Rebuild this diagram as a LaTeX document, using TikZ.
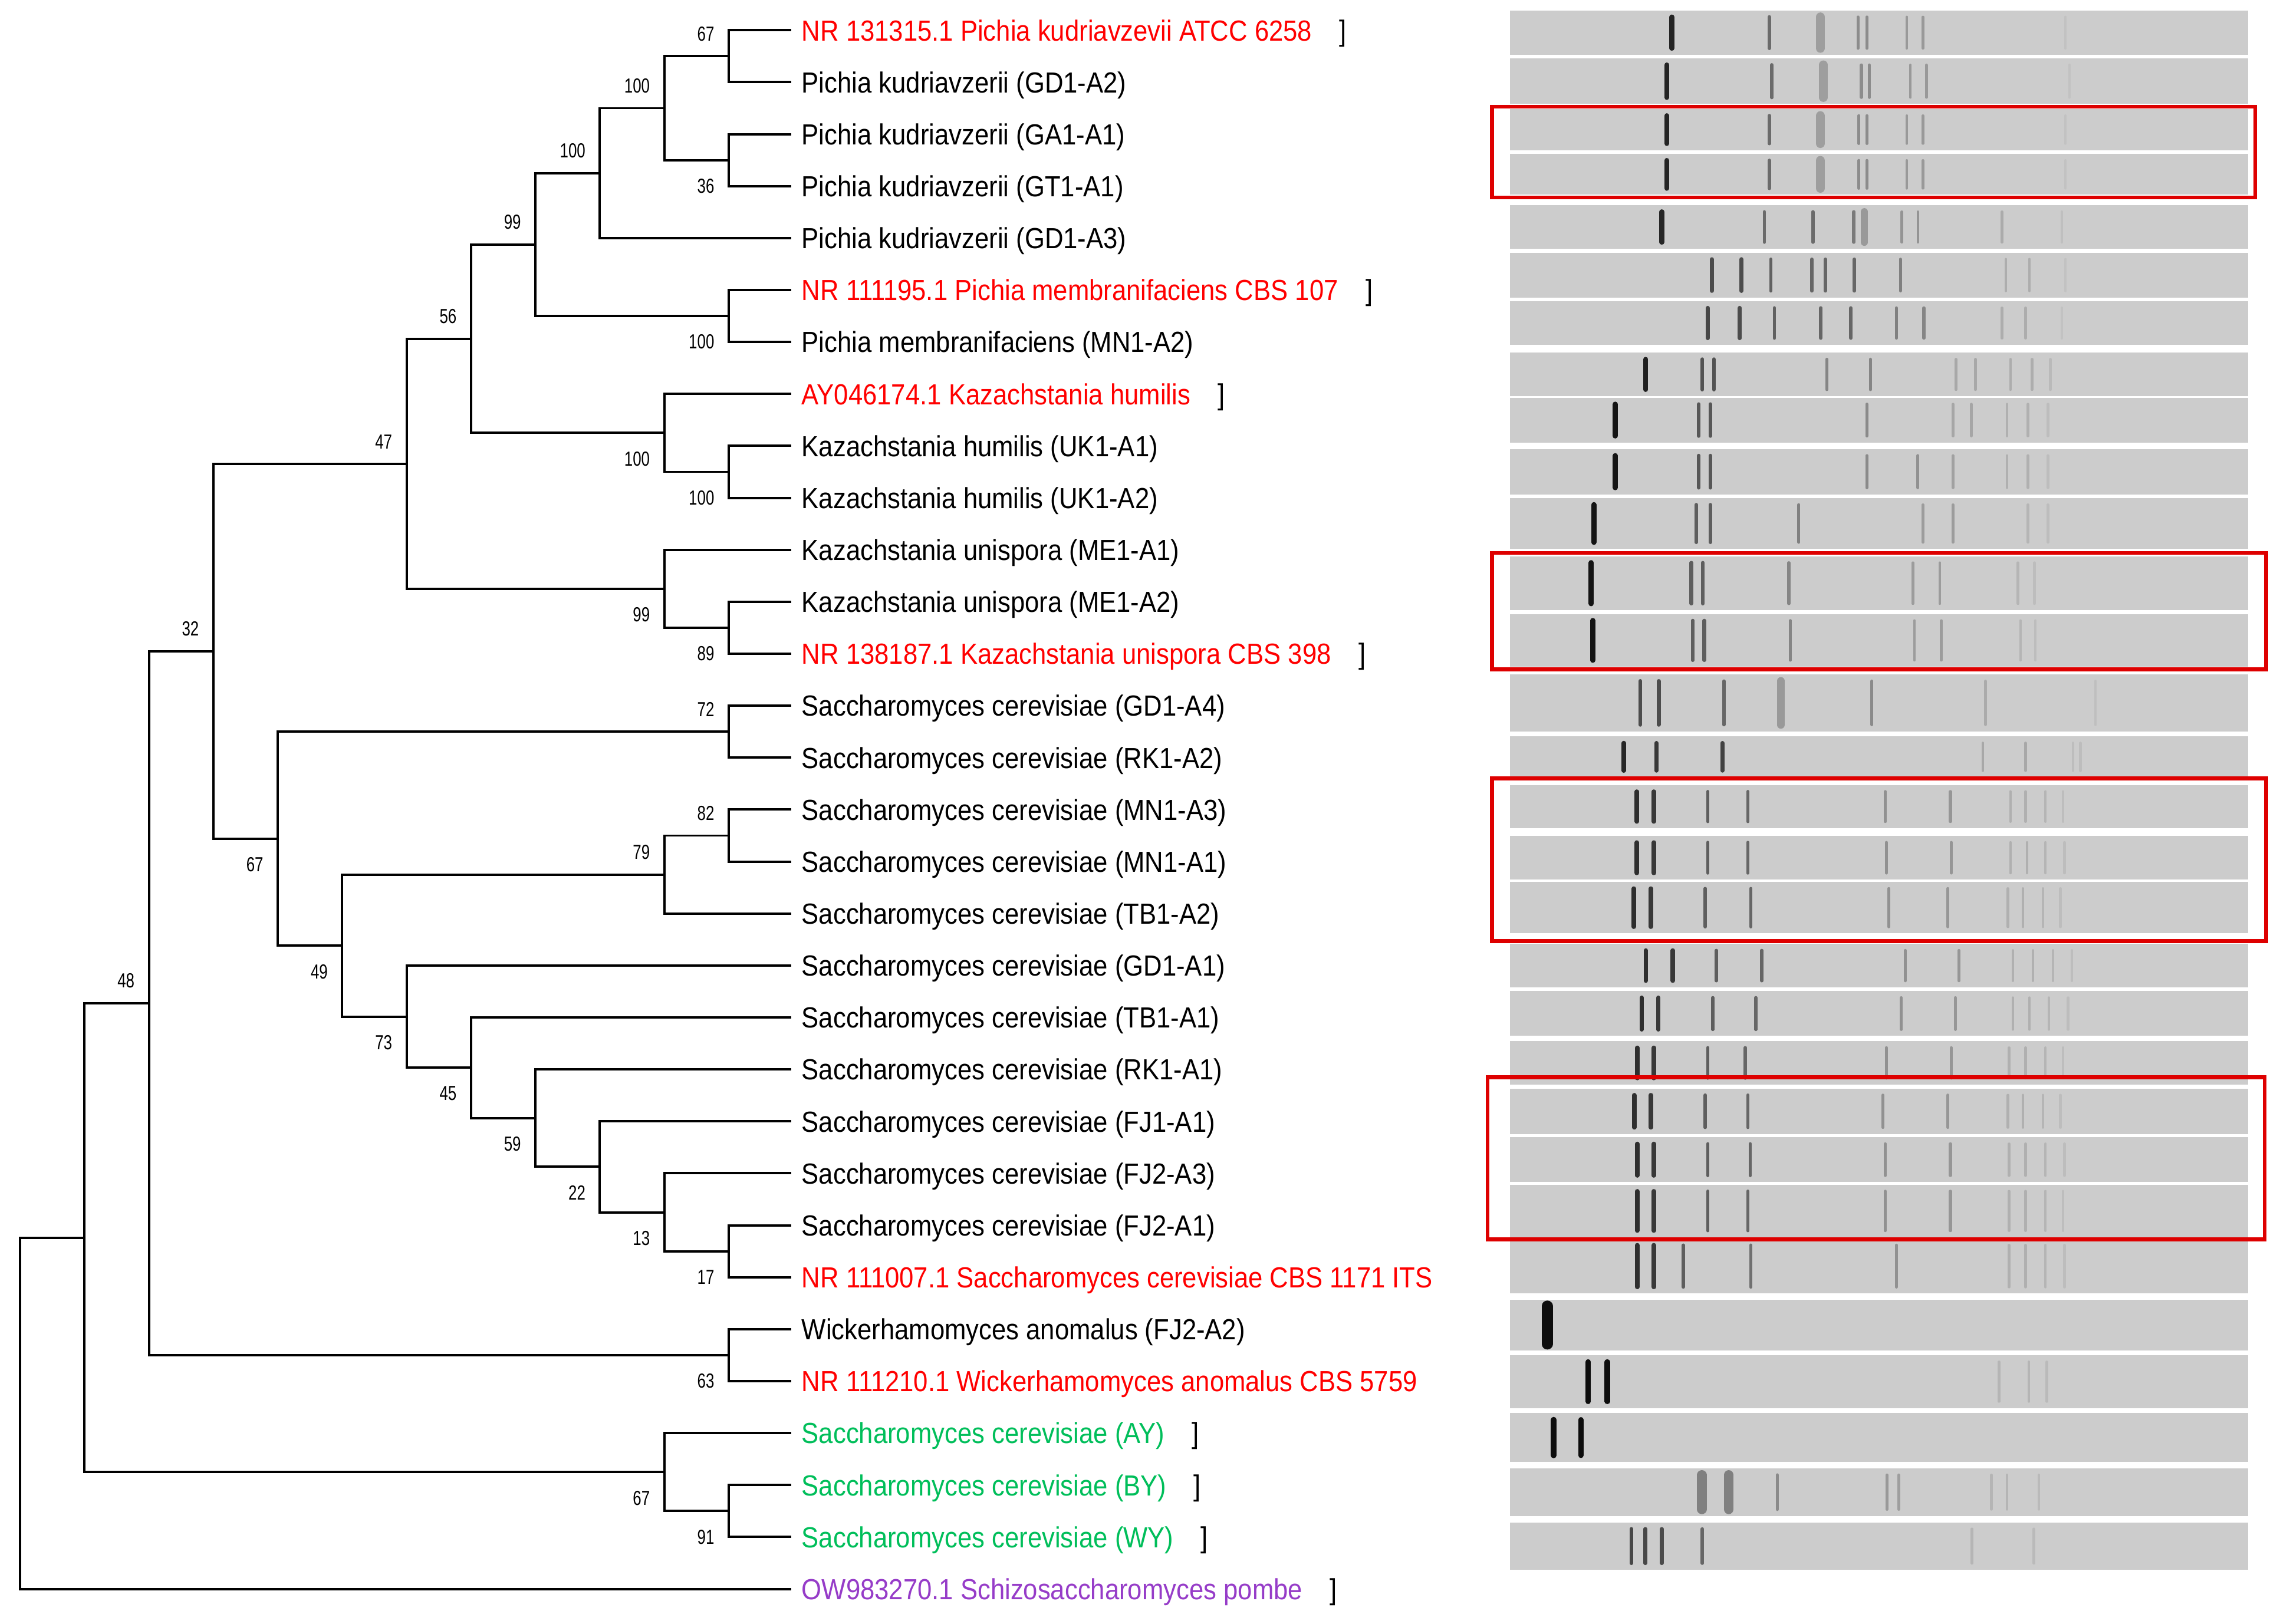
\documentclass[tikz,border=0pt]{standalone}
\usepackage{fontspec}
\newfontfamily\labfont[FakeStretch=0.885]{Liberation Sans}
\newfontfamily\numfont[FakeStretch=0.75]{Liberation Sans}
\usetikzlibrary{calc}
\definecolor{refred}{RGB}{255,0,0}
\definecolor{refgreen}{RGB}{0,190,90}
\definecolor{refpurple}{RGB}{150,60,200}
\definecolor{boxred}{RGB}{222,0,0}
\definecolor{lanegray}{RGB}{204,204,204}
\newcommand\gellane[3]{%
  \fill[lanegray] (1038.5,#1) rectangle (1546,#2);
  \foreach \z/\c/\w in {#3}{\draw[line width={1.15pt*\w}, draw=black!\c, line cap=round] ({1030+\z/2.907},{#1+4.5}) -- ({1030+\z/2.907},{#2-4.5});}
}
\newcommand\inode[4]{%
  \coordinate (m#1) at ($(#2)!.5!(#3)$);
  \coordinate (#1) at (m#1 -| L#4);
  \draw[branch] (#1) |- (#2);
  \draw[branch] (#1) |- (#3);
}
\begin{document}
\begin{tikzpicture}[x=0.5pt,y=-0.5pt,
  branch/.style={line width=0.8pt, line cap=rect},
  bs/.style={font={\numfont\fontsize{7}{8}\selectfont}, inner sep=0pt},
  bsup/.style={bs, anchor=south east},
  bsdn/.style={bs, anchor=north east},
  leaf/.style={font={\labfont\fontsize{10}{12}\selectfont}, inner sep=0pt, anchor=base west},
  redleaf/.style={leaf, text=refred},
  greenleaf/.style={leaf, text=refgreen},
  purpleleaf/.style={leaf, text=refpurple},
  redbox/.style={draw=boxred, line width=1.3pt}]
\useasboundingbox (0,0) rectangle (1568,1117);
% levels and tips
\foreach \k in {0,...,11} \coordinate (L\k) at ({13.8+44.3*\k},0);
\foreach \i in {0,...,30} \coordinate (t\i) at (543.5,{20.8+35.74*\i});
% tree
\inode{A}{t0}{t1}{11}
\inode{B}{t2}{t3}{11}
\inode{C}{A}{B}{10}
\inode{D}{C}{t4}{9}
\inode{E}{t5}{t6}{11}
\inode{F}{D}{E}{8}
\inode{G}{t8}{t9}{11}
\inode{H}{t7}{G}{10}
\inode{I}{F}{H}{7}
\inode{J}{t11}{t12}{11}
\inode{K}{t10}{J}{10}
\inode{M}{I}{K}{6}
\inode{N}{t13}{t14}{11}
\inode{O}{t15}{t16}{11}
\inode{P}{O}{t17}{10}
\inode{Q}{t23}{t24}{11}
\inode{S}{t22}{Q}{10}
\inode{T}{t21}{S}{9}
\inode{U}{t20}{T}{8}
\inode{V}{t19}{U}{7}
\inode{W}{t18}{V}{6}
\inode{X}{P}{W}{5}
\inode{Y}{N}{X}{4}
\inode{Z}{M}{Y}{3}
\inode{AA}{t25}{t26}{11}
\inode{BB}{Z}{AA}{2}
\inode{CC}{t28}{t29}{11}
\inode{DD}{t27}{CC}{10}
\inode{EE}{BB}{DD}{1}
\inode{R}{EE}{t30}{0}
% bootstrap values
\foreach \n/\v in {A/67,C/100,D/100,F/99,I/56,M/47,N/72,O/82,P/79,Z/32,BB/48}
  \node[bsup] (b\n) at ([shift={(-9.5,-10)}]\n) {\v};
\foreach \n/\v in {B/36,E/100,G/100,H/100,J/89,K/99,Q/17,S/13,T/22,U/59,V/45,W/73,X/49,Y/67,AA/63,CC/91,DD/67}
  \node[bsdn] (b\n) at ([shift={(-9.5,12.5)}]\n) {\v};
% leaf labels
\node[redleaf] (lab0) at ([shift={(7.5,7.2)}]t0) {NR 131315.1 Pichia kudriavzevii ATCC 6258};
\node[leaf] (lab1) at ([shift={(7.5,7.2)}]t1) {Pichia kudriavzerii (GD1-A2)};
\node[leaf] (lab2) at ([shift={(7.5,7.2)}]t2) {Pichia kudriavzerii (GA1-A1)};
\node[leaf] (lab3) at ([shift={(7.5,7.2)}]t3) {Pichia kudriavzerii (GT1-A1)};
\node[leaf] (lab4) at ([shift={(7.5,7.2)}]t4) {Pichia kudriavzerii (GD1-A3)};
\node[redleaf] (lab5) at ([shift={(7.5,7.2)}]t5) {NR 111195.1 Pichia membranifaciens CBS 107};
\node[leaf] (lab6) at ([shift={(7.5,7.2)}]t6) {Pichia membranifaciens (MN1-A2)};
\node[redleaf] (lab7) at ([shift={(7.5,7.2)}]t7) {AY046174.1 Kazachstania humilis};
\node[leaf] (lab8) at ([shift={(7.5,7.2)}]t8) {Kazachstania humilis (UK1-A1)};
\node[leaf] (lab9) at ([shift={(7.5,7.2)}]t9) {Kazachstania humilis (UK1-A2)};
\node[leaf] (lab10) at ([shift={(7.5,7.2)}]t10) {Kazachstania unispora (ME1-A1)};
\node[leaf] (lab11) at ([shift={(7.5,7.2)}]t11) {Kazachstania unispora (ME1-A2)};
\node[redleaf] (lab12) at ([shift={(7.5,7.2)}]t12) {NR 138187.1 Kazachstania unispora CBS 398};
\node[leaf] (lab13) at ([shift={(7.5,7.2)}]t13) {Saccharomyces cerevisiae (GD1-A4)};
\node[leaf] (lab14) at ([shift={(7.5,7.2)}]t14) {Saccharomyces cerevisiae (RK1-A2)};
\node[leaf] (lab15) at ([shift={(7.5,7.2)}]t15) {Saccharomyces cerevisiae (MN1-A3)};
\node[leaf] (lab16) at ([shift={(7.5,7.2)}]t16) {Saccharomyces cerevisiae (MN1-A1)};
\node[leaf] (lab17) at ([shift={(7.5,7.2)}]t17) {Saccharomyces cerevisiae (TB1-A2)};
\node[leaf] (lab18) at ([shift={(7.5,7.2)}]t18) {Saccharomyces cerevisiae (GD1-A1)};
\node[leaf] (lab19) at ([shift={(7.5,7.2)}]t19) {Saccharomyces cerevisiae (TB1-A1)};
\node[leaf] (lab20) at ([shift={(7.5,7.2)}]t20) {Saccharomyces cerevisiae (RK1-A1)};
\node[leaf] (lab21) at ([shift={(7.5,7.2)}]t21) {Saccharomyces cerevisiae (FJ1-A1)};
\node[leaf] (lab22) at ([shift={(7.5,7.2)}]t22) {Saccharomyces cerevisiae (FJ2-A3)};
\node[leaf] (lab23) at ([shift={(7.5,7.2)}]t23) {Saccharomyces cerevisiae (FJ2-A1)};
\node[redleaf] (lab24) at ([shift={(7.5,7.2)}]t24) {NR 111007.1 Saccharomyces cerevisiae CBS 1171 ITS};
\node[leaf] (lab25) at ([shift={(7.5,7.2)}]t25) {Wickerhamomyces anomalus (FJ2-A2)};
\node[redleaf] (lab26) at ([shift={(7.5,7.2)}]t26) {NR 111210.1 Wickerhamomyces anomalus CBS 5759};
\node[greenleaf] (lab27) at ([shift={(7.5,7.2)}]t27) {Saccharomyces cerevisiae (AY)};
\node[greenleaf] (lab28) at ([shift={(7.5,7.2)}]t28) {Saccharomyces cerevisiae (BY)};
\node[greenleaf] (lab29) at ([shift={(7.5,7.2)}]t29) {Saccharomyces cerevisiae (WY)};
\node[purpleleaf] (lab30) at ([shift={(7.5,7.2)}]t30) {OW983270.1 Schizosaccharomyces pombe};
% brackets
\foreach \i in {0,5,7,12,27,28,29,30}
  \node[leaf] (br\i) at ([xshift=9pt]lab\i.base east) {]};
% gel lanes
\gellane{7.2}{37.7}{348/86/1.5, 543/58/1.1, 645/38/2.7, 720/45/0.9, 738/45/0.9, 818/40/0.8, 850/40/0.8, 1135/24/0.8}
\gellane{40.2}{71.5}{338/86/1.5, 548/58/1.1, 651/38/2.7, 727/45/0.9, 743/45/0.9, 825/40/0.8, 857/40/0.8, 1143/24/0.8}
\gellane{75.1}{103.2}{338/86/1.5, 543/58/1.1, 645/38/2.7, 722/45/.9, 738/45/.9, 818/40/.8, 850/40/.8, 1135/24/.8}
\gellane{105.9}{134}{338/86/1.5, 543/58/1.1, 645/38/2.7, 722/45/.9, 738/45/.9, 818/40/.8, 850/40/.8, 1135/24/.8}
\gellane{141.2}{171.1}{328/85/1.5, 533/58/1, 630/58/1, 712/52/1, 733/40/2.2, 808/42/.8, 840/42/.8, 1008/33/.8, 1128/25/.8}
\gellane{173.8}{204.6}{428/70/1.2, 487/70/1.2, 546/62/1, 628/60/1, 655/60/1, 713/60/1, 805/50/.9, 1016/32/.8, 1063/32/.8, 1135/24/.8}
\gellane{207.3}{237.1}{420/72/1.2, 484/70/1.2, 553/62/1, 646/60/1, 706/60/1, 797/50/.9, 852/48/.9, 1008/32/.8, 1055/32/.8, 1128/24/.8}
\gellane{242.6}{272.5}{296/88/1.4, 409/68/1.1, 432/68/1.1, 658/48/.9, 745/48/.9, 916/34/.8, 955/34/.8, 1025/32/.8, 1068/32/.8, 1105/27/.8}
\gellane{273.5}{304.4}{235/92/1.5, 402/66/1.1, 425/66/1.1, 738/46/.9, 910/35/.8, 947/35/.8, 1018/31/.8, 1060/31/.8, 1100/26/.8}
\gellane{308.9}{340}{235/92/1.5, 402/66/1.1, 425/66/1.1, 738/46/.9, 840/43/.9, 910/37/.8, 1018/31/.8, 1060/31/.8, 1100/26/.8}
\gellane{342.7}{377.5}{192/92/1.6, 397/63/1.1, 425/63/1.1, 602/50/.9, 850/39/.8, 910/39/.8, 1060/29/.8, 1100/26/.8}
\gellane{382.6}{419.7}{187/92/1.6, 387/63/1.1, 410/63/1.1, 582/48/.9, 830/39/.8, 884/39/.8, 1040/29/.8, 1073/26/.8}
\gellane{422.4}{458.6}{190/92/1.6, 390/63/1.1, 413/63/1.1, 585/48/.9, 833/39/.8, 887/39/.8, 1045/29/.8, 1075/26/.8}
\gellane{464}{503}{285/70/1.2, 322/70/1.2, 452/60/1, 566/40/2.4, 748/46/.9, 975/33/.8, 1195/25/.8}
\gellane{506.6}{534.6}{252/85/1.3, 317/78/1.2, 449/74/1.2, 970/34/.8, 1055/34/.8, 1150/26/.8, 1165/26/.8}
\gellane{540}{569.6}{278/82/1.3, 312/78/1.3, 420/63/1, 500/60/1, 775/43/.9, 905/41/.9, 1025/31/.8, 1055/31/.8, 1095/29/.8, 1130/26/.8}
\gellane{575}{605}{278/82/1.3, 312/78/1.3, 420/63/1, 500/60/1, 777/43/.9, 907/41/.9, 1025/31/.8, 1058/31/.8, 1095/29/.8, 1133/26/.8}
\gellane{606.7}{642}{272/82/1.3, 306/78/1.3, 415/63/1, 506/60/1, 782/43/.9, 900/41/.9, 1020/31/.8, 1050/31/.8, 1090/29/.8, 1125/26/.8}
\gellane{649.3}{679.1}{296/82/1.3, 350/78/1.3, 437/63/1, 528/60/1, 815/43/.9, 922/41/.9, 1030/31/.8, 1070/31/.8, 1110/29/.8, 1148/26/.8}
\gellane{681.8}{712.6}{288/82/1.3, 321/78/1.3, 430/63/1, 516/60/1, 807/43/.9, 915/41/.9, 1030/31/.8, 1063/31/.8, 1102/29/.8, 1140/26/.8}
\gellane{716.2}{746.1}{279/82/1.3, 312/78/1.3, 420/63/1, 495/60/1, 777/43/.9, 907/41/.9, 1022/31/.8, 1055/31/.8, 1095/29/.8, 1130/26/.8}
\gellane{748.8}{780}{273/82/1.3, 306/78/1.3, 415/63/1, 500/60/1, 770/43/.9, 900/41/.9, 1020/31/.8, 1050/31/.8, 1090/29/.8, 1125/26/.8}
\gellane{782.3}{813.1}{279/82/1.3, 312/78/1.3, 420/63/1, 505/60/1, 775/43/.9, 905/41/.9, 1022/31/.8, 1055/31/.8, 1095/29/.8, 1133/26/.8}
\gellane{814.9}{851}{279/82/1.3, 312/78/1.3, 420/63/1, 500/60/1, 775/43/.9, 905/41/.9, 1022/31/.8, 1055/31/.8, 1095/29/.8, 1130/26/.8}
\gellane{852}{889.8}{279/82/1.3, 312/78/1.3, 371/63/1, 506/56/1, 797/43/.9, 1022/31/.8, 1055/31/.8, 1095/29/.8, 1133/26/.8}
\gellane{893.9}{929}{99/95/3.3}
\gellane{932.3}{968.5}{181/95/1.6, 219/95/1.6, 1002/29/.8, 1062/29/.8, 1098/27/.8}
\gellane{972.1}{1005.6}{112/95/1.7, 166/95/1.6}
\gellane{1010.1}{1042.7}{408/50/2.9, 462/50/2.9, 559/46/1, 778/40/.9, 802/38/.9, 987/29/.8, 1018/29/.8, 1082/27/.8}
\gellane{1047.2}{1079.8}{267/72/1.1, 295/72/1.1, 328/70/1.1, 409/60/1, 948/29/.8, 1072/27/.8}
% red boxes
\draw[redbox] (1026,73.3) rectangle (1551,135.8);
\draw[redbox] (1026,380.4) rectangle (1558.5,460.4);
\draw[redbox] (1026,535.5) rectangle (1558.5,647.4);
\draw[redbox] (1023,741) rectangle (1557.5,852.6);
\end{tikzpicture}
\end{document}
